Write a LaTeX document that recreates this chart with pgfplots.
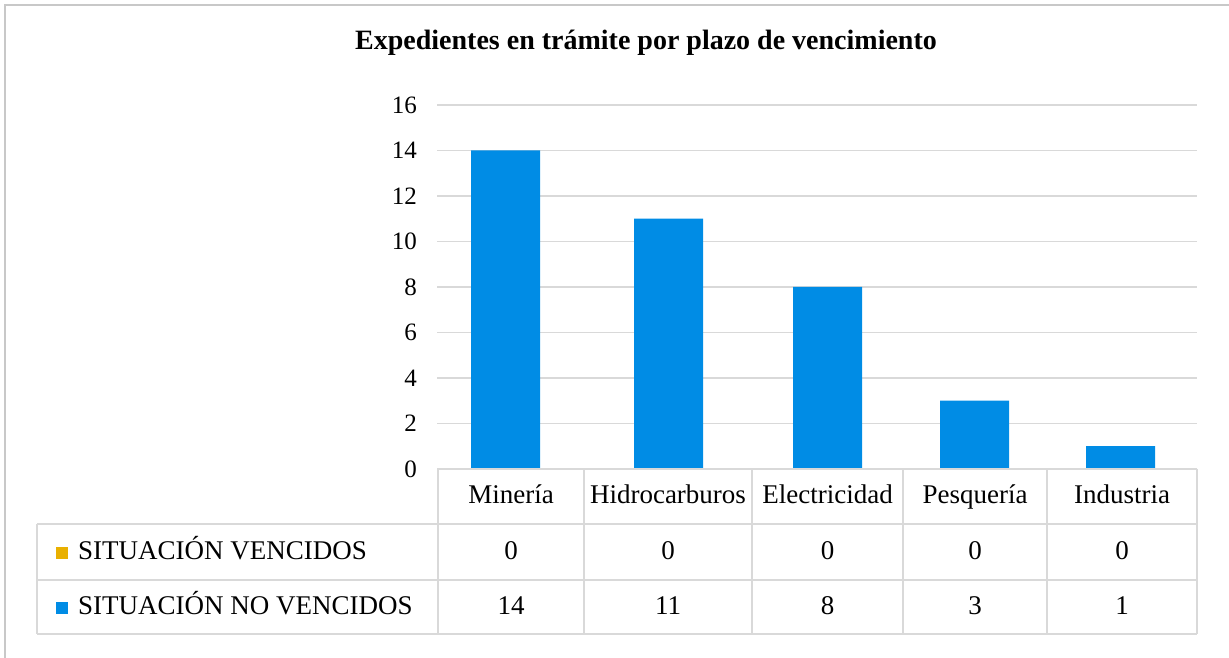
\documentclass[border=0pt]{standalone}
\usepackage{fontspec}
\setmainfont{Liberation Serif}
\usepackage{pgfplots}
\pgfplotsset{compat=1.18}
\definecolor{barblue}{HTML}{008CE5}
\definecolor{baryellow}{HTML}{E9B000}
\definecolor{gridgray}{HTML}{D9D9D9}
\definecolor{framegray}{HTML}{C8C8C8}
\begin{document}
\begin{tikzpicture}[x=1pt,y=1pt]
\useasboundingbox (0,0) rectangle (1229,658);
\draw[framegray, line width=2pt] (5,0) -- (5,653) -- (1229,653);
\node[font=\fontsize{28}{32}\selectfont\bfseries, anchor=base] at (646,608) {Expedientes en trámite por plazo de vencimiento};
\begin{axis}[at={(437pt,189pt)}, anchor=south west, scale only axis,
  width=760pt, height=364pt, xmin=437, xmax=1197, ymin=0, ymax=16,
  ytick={0,2,...,16}, xtick=\empty, ymajorgrids,
  grid style={gridgray, line width=1.5pt},
  axis line style={draw=none}, major tick length=0pt,
  /pgf/number format/assume math mode=true,
  yticklabel style={font=\fontsize{25}{28}\selectfont, inner sep=0pt, xshift=-20pt},
  clip=false]
\addplot[ybar, bar width=69, bar shift=0pt, fill=baryellow, draw=none]
  coordinates {(505.5,0) (668.5,0) (827.5,0) (974.5,0) (1120.5,0)};
\addplot[ybar, bar width=69, bar shift=0pt, fill=barblue, draw=none]
  coordinates {(505.5,14) (668.5,11) (827.5,8) (974.5,3) (1120.5,1)};
\end{axis}
\begin{scope}[gridgray, line width=1.5pt]
\draw (438,189) -- (1197,189);
\draw (37,134) -- (1197,134);
\draw (37,78) -- (1197,78);
\draw (37,24) -- (1197,24);
\draw (37,134) -- (37,24);
\foreach \x in {438,584,752,903,1047,1197} \draw (\x,189) -- (\x,24);
\end{scope}
\begin{scope}[every node/.style={font=\fontsize{27}{30}\selectfont, anchor=base, inner sep=0pt}]
\node at (511,154) {Minería};
\node at (668,154) {Hidrocarburos};
\node at (827.5,154) {Electricidad};
\node at (975,154) {Pesquería};
\node at (1122,154) {Industria};
\fill[baryellow] (56,99) rectangle (68,111);
\fill[barblue] (56,44) rectangle (68,56);
\node[anchor=base west] at (78,98) {SITUACIÓN VENCIDOS};
\node[anchor=base west] at (78,43) {SITUACIÓN NO VENCIDOS};
\foreach \x in {511,668,827.5,975,1122} \node at (\x,98) {0};
\node at (511,43) {14};
\node at (668,43) {11};
\node at (827.5,43) {8};
\node at (975,43) {3};
\node at (1122,43) {1};
\end{scope}
\end{tikzpicture}
\end{document}
